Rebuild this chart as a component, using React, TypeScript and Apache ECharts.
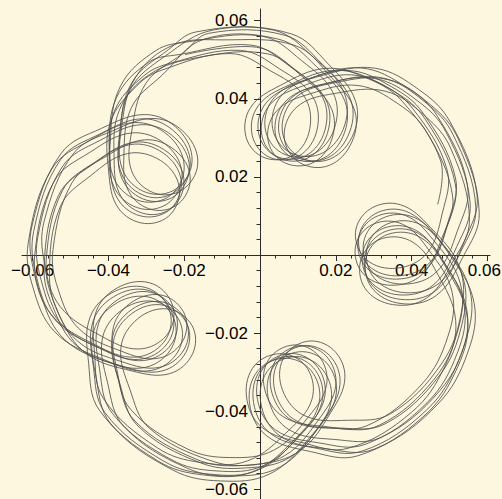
import React, { useEffect, useRef } from 'react';
import * as echarts from 'echarts';

// Curve as [radius, angle in degrees] pairs,
// one array per pass around the five loops (clockwise travel).
const passA: [number, number][] = [
  [0.0565, 110.5], [0.0549, 91], [0.0499, 79.4], [0.0446, 67.1], [0.0367, 61], [0.0285, 63.9], [0.0262, 79.7], [0.0319, 89.2], [0.0398, 86.2], [0.0461, 75.7], [0.0534, 63], [0.0559, 50.5],
  [0.0565, 39.5], [0.0549, 20], [0.0499, 8.4], [0.0446, 356.1], [0.0367, 350], [0.0285, 352.9], [0.0262, 8.7], [0.0319, 18.2], [0.0398, 15.2], [0.0461, 4.7], [0.0534, 352], [0.0559, 339.5],
  [0.0565, 324.5], [0.0549, 305], [0.0499, 293.4], [0.0446, 281.1], [0.0367, 275], [0.0285, 277.9], [0.0262, 293.7], [0.0319, 303.2], [0.0398, 300.2], [0.0461, 289.7], [0.0534, 277], [0.0559, 264.5],
  [0.0565, 252.5], [0.0549, 233], [0.0499, 221.4], [0.0446, 209.1], [0.0367, 203], [0.0285, 205.9], [0.0262, 221.7], [0.0319, 231.2], [0.0398, 228.2], [0.0461, 217.7], [0.0534, 205], [0.0559, 192.5],
  [0.0565, 181.5], [0.0549, 162], [0.0499, 150.4], [0.0446, 138.1], [0.0367, 132], [0.0285, 134.9], [0.0262, 150.7], [0.0319, 160.2], [0.0398, 157.2], [0.0461, 146.7], [0.0534, 134], [0.0559, 121.5],
];

const passB: [number, number][] = [
  [0.0547, 107.5], [0.0532, 88], [0.0483, 76.4], [0.0431, 64.1], [0.0355, 58], [0.0276, 60.9], [0.0254, 76.7], [0.0309, 86.2], [0.0385, 83.2], [0.0446, 72.7], [0.0517, 60], [0.0541, 47.5],
  [0.0547, 36.5], [0.0532, 17], [0.0483, 5.4], [0.0431, 353.1], [0.0355, 347], [0.0276, 349.9], [0.0254, 5.7], [0.0309, 15.2], [0.0385, 12.2], [0.0446, 1.7], [0.0517, 349], [0.0541, 336.5],
  [0.0547, 321.5], [0.0532, 302], [0.0483, 290.4], [0.0431, 278.1], [0.0355, 272], [0.0276, 274.9], [0.0254, 290.7], [0.0309, 300.2], [0.0385, 297.2], [0.0446, 286.7], [0.0517, 274], [0.0541, 261.5],
  [0.0547, 249.5], [0.0532, 230], [0.0483, 218.4], [0.0431, 206.1], [0.0355, 200], [0.0276, 202.9], [0.0254, 218.7], [0.0309, 228.2], [0.0385, 225.2], [0.0446, 214.7], [0.0517, 202], [0.0541, 189.5],
  [0.0547, 178.5], [0.0532, 159], [0.0483, 147.4], [0.0431, 135.1], [0.0355, 129], [0.0276, 131.9], [0.0254, 147.7], [0.0309, 157.2], [0.0385, 154.2], [0.0446, 143.7], [0.0517, 131], [0.0541, 118.5],
];

const passC: [number, number][] = [
  [0.0589, 104.5], [0.0572, 85], [0.052, 73.4], [0.0464, 61.1], [0.0382, 55], [0.0297, 57.9], [0.0273, 73.7], [0.0333, 83.2], [0.0415, 80.2], [0.048, 69.7], [0.0556, 57], [0.0582, 44.5],
  [0.0589, 33.5], [0.0572, 14], [0.052, 2.4], [0.0464, 350.1], [0.0382, 344], [0.0297, 346.9], [0.0273, 2.7], [0.0333, 12.2], [0.0415, 9.2], [0.048, 358.7], [0.0556, 346], [0.0582, 333.5],
  [0.0589, 318.5], [0.0572, 299], [0.052, 287.4], [0.0464, 275.1], [0.0382, 269], [0.0297, 271.9], [0.0273, 287.7], [0.0333, 297.2], [0.0415, 294.2], [0.048, 283.7], [0.0556, 271], [0.0582, 258.5],
  [0.0589, 246.5], [0.0572, 227], [0.052, 215.4], [0.0464, 203.1], [0.0382, 197], [0.0297, 199.9], [0.0273, 215.7], [0.0333, 225.2], [0.0415, 222.2], [0.048, 211.7], [0.0556, 199], [0.0582, 186.5],
  [0.0589, 175.5], [0.0572, 156], [0.052, 144.4], [0.0464, 132.1], [0.0382, 126], [0.0297, 128.9], [0.0273, 144.7], [0.0333, 154.2], [0.0415, 151.2], [0.048, 140.7], [0.0556, 128], [0.0582, 115.5],
];

const passD: [number, number][] = [
  [0.0607, 101.5], [0.059, 82], [0.0536, 70.4], [0.0478, 58.1], [0.0394, 52], [0.0306, 54.9], [0.0282, 70.7], [0.0343, 80.2], [0.0427, 77.2], [0.0495, 66.7], [0.0573, 54], [0.06, 41.5],
  [0.0607, 30.5], [0.059, 11], [0.0536, 359.4], [0.0478, 347.1], [0.0394, 341], [0.0306, 343.9], [0.0282, 359.7], [0.0343, 9.2], [0.0427, 6.2], [0.0495, 355.7], [0.0573, 343], [0.06, 330.5],
  [0.0607, 315.5], [0.059, 296], [0.0536, 284.4], [0.0478, 272.1], [0.0394, 266], [0.0306, 268.9], [0.0282, 284.7], [0.0343, 294.2], [0.0427, 291.2], [0.0495, 280.7], [0.0573, 268], [0.06, 255.5],
  [0.0607, 243.5], [0.059, 224], [0.0536, 212.4], [0.0478, 200.1], [0.0394, 194], [0.0306, 196.9], [0.0282, 212.7], [0.0343, 222.2], [0.0427, 219.2], [0.0495, 208.7], [0.0573, 196], [0.06, 183.5],
  [0.0607, 172.5], [0.059, 153], [0.0536, 141.4], [0.0478, 129.1], [0.0394, 123], [0.0306, 125.9], [0.0282, 141.7], [0.0343, 151.2], [0.0427, 148.2], [0.0495, 137.7], [0.0573, 125], [0.06, 112.5],
];

const passE: [number, number][] = [
  [0.0577, 100], [0.0561, 80.5], [0.0509, 68.9], [0.0455, 56.6], [0.0374, 50.5], [0.0291, 53.4], [0.0268, 69.2], [0.0326, 78.7], [0.0406, 75.7], [0.047, 65.2], [0.0545, 52.5], [0.057, 40],
  [0.0577, 29], [0.0561, 9.5], [0.0509, 357.9], [0.0455, 345.6], [0.0374, 339.5], [0.0291, 342.4], [0.0268, 358.2], [0.0326, 7.7], [0.0406, 4.7], [0.047, 354.2], [0.0545, 341.5], [0.057, 329],
  [0.0577, 314], [0.0561, 294.5], [0.0509, 282.9], [0.0455, 270.6], [0.0374, 264.5], [0.0291, 267.4], [0.0268, 283.2], [0.0326, 292.7], [0.0406, 289.7], [0.047, 279.2], [0.0545, 266.5], [0.057, 254],
  [0.0577, 242], [0.0561, 222.5], [0.0509, 210.9], [0.0455, 198.6], [0.0374, 192.5], [0.0291, 195.4], [0.0268, 211.2], [0.0326, 220.7], [0.0406, 217.7], [0.047, 207.2], [0.0545, 194.5], [0.057, 182],
  [0.0577, 171], [0.0561, 151.5], [0.0509, 139.9], [0.0455, 127.6], [0.0374, 121.5], [0.0291, 124.4], [0.0268, 140.2], [0.0326, 149.7], [0.0406, 146.7], [0.047, 136.2], [0.0545, 123.5], [0.057, 111],
];

const passF: [number, number][] = [
  [0.0601, 103], [0.0584, 83.5], [0.053, 71.9], [0.0474, 59.6], [0.039, 53.5], [0.0303, 56.4], [0.0279, 72.2], [0.0339, 81.7], [0.0423, 78.7], [0.049, 68.2], [0.0568, 55.5], [0.0594, 43],
  [0.0601, 32], [0.0584, 12.5], [0.053, 0.9], [0.0474, 348.6], [0.039, 342.5], [0.0303, 345.4], [0.0279, 1.2], [0.0339, 10.7], [0.0423, 7.7], [0.049, 357.2], [0.0568, 344.5], [0.0594, 332],
  [0.0601, 317], [0.0584, 297.5], [0.053, 285.9], [0.0474, 273.6], [0.039, 267.5], [0.0303, 270.4], [0.0279, 286.2], [0.0339, 295.7], [0.0423, 292.7], [0.049, 282.2], [0.0568, 269.5], [0.0594, 257],
  [0.0601, 245], [0.0584, 225.5], [0.053, 213.9], [0.0474, 201.6], [0.039, 195.5], [0.0303, 198.4], [0.0279, 214.2], [0.0339, 223.7], [0.0423, 220.7], [0.049, 210.2], [0.0568, 197.5], [0.0594, 185],
  [0.0601, 174], [0.0584, 154.5], [0.053, 142.9], [0.0474, 130.6], [0.039, 124.5], [0.0303, 127.4], [0.0279, 143.2], [0.0339, 152.7], [0.0423, 149.7], [0.049, 139.2], [0.0568, 126.5], [0.0594, 114],
];

const passG: [number, number][] = [
  [0.0613, 106], [0.0595, 86.5], [0.0541, 74.9], [0.0483, 62.6], [0.0398, 56.5], [0.0309, 59.4], [0.0284, 75.2], [0.0346, 84.7], [0.0432, 81.7], [0.05, 71.2], [0.0579, 58.5], [0.0606, 46],
  [0.0613, 35], [0.0595, 15.5], [0.0541, 3.9], [0.0483, 351.6], [0.0398, 345.5], [0.0309, 348.4], [0.0284, 4.2], [0.0346, 13.7], [0.0432, 10.7], [0.05, 0.2], [0.0579, 347.5], [0.0606, 335],
  [0.0613, 320], [0.0595, 300.5], [0.0541, 288.9], [0.0483, 276.6], [0.0398, 270.5], [0.0309, 273.4], [0.0284, 289.2], [0.0346, 298.7], [0.0432, 295.7], [0.05, 285.2], [0.0579, 272.5], [0.0606, 260],
  [0.0613, 248], [0.0595, 228.5], [0.0541, 216.9], [0.0483, 204.6], [0.0398, 198.5], [0.0309, 201.4], [0.0284, 217.2], [0.0346, 226.7], [0.0432, 223.7], [0.05, 213.2], [0.0579, 200.5], [0.0606, 188],
  [0.0613, 177], [0.0595, 157.5], [0.0541, 145.9], [0.0483, 133.6], [0.0398, 127.5], [0.0309, 130.4], [0.0284, 146.2], [0.0346, 155.7], [0.0432, 152.7], [0.05, 142.2], [0.0579, 129.5], [0.0606, 117],
];

const passH: [number, number][] = [
  [0.0595, 109], [0.0578, 89.5], [0.0525, 77.9], [0.0469, 65.6], [0.0386, 59.5], [0.03, 62.4], [0.0276, 78.2], [0.0336, 87.7], [0.0419, 84.7], [0.0485, 74.2], [0.0562, 61.5], [0.0588, 49],
  [0.0595, 38], [0.0578, 18.5], [0.0525, 6.9], [0.0469, 354.6], [0.0386, 348.5], [0.03, 351.4], [0.0276, 7.2], [0.0336, 16.7], [0.0419, 13.7], [0.0485, 3.2], [0.0562, 350.5], [0.0588, 338],
  [0.0595, 323], [0.0578, 303.5], [0.0525, 291.9], [0.0469, 279.6], [0.0386, 273.5], [0.03, 276.4], [0.0276, 292.2], [0.0336, 301.7], [0.0419, 298.7], [0.0485, 288.2], [0.0562, 275.5], [0.0588, 263],
  [0.0595, 251], [0.0578, 231.5], [0.0525, 219.9], [0.0469, 207.6], [0.0386, 201.5], [0.03, 204.4], [0.0276, 220.2], [0.0336, 229.7], [0.0419, 226.7], [0.0485, 216.2], [0.0562, 203.5], [0.0588, 191],
  [0.0595, 180], [0.0578, 160.5], [0.0525, 148.9], [0.0469, 136.6], [0.0386, 130.5], [0.03, 133.4], [0.0276, 149.2], [0.0336, 158.7], [0.0419, 155.7], [0.0485, 145.2], [0.0562, 132.5], [0.0588, 120],
];

const passI: [number, number][] = [
  [0.0571, 112], [0.0555, 92.5], [0.0504, 80.9], [0.045, 68.6], [0.0371, 62.5], [0.0288, 65.4], [0.0265, 81.2], [0.0323, 90.7], [0.0402, 87.7], [0.0466, 77.2], [0.054, 64.5], [0.0564, 52],
  [0.0571, 41], [0.0555, 21.5], [0.0504, 9.9], [0.045, 357.6], [0.0371, 351.5], [0.0288, 354.4], [0.0265, 10.2], [0.0323, 19.7], [0.0402, 16.7], [0.0466, 6.2], [0.054, 353.5], [0.0564, 341],
  [0.0571, 326], [0.0555, 306.5], [0.0504, 294.9], [0.045, 282.6], [0.0371, 276.5], [0.0288, 279.4], [0.0265, 295.2], [0.0323, 304.7], [0.0402, 301.7], [0.0466, 291.2], [0.054, 278.5], [0.0564, 266],
  [0.0571, 254], [0.0555, 234.5], [0.0504, 222.9], [0.045, 210.6], [0.0371, 204.5], [0.0288, 207.4], [0.0265, 223.2], [0.0323, 232.7], [0.0402, 229.7], [0.0466, 219.2], [0.054, 206.5], [0.0564, 194],
  [0.0571, 183], [0.0555, 163.5], [0.0504, 151.9], [0.045, 139.6], [0.0371, 133.5], [0.0288, 136.4], [0.0265, 152.2], [0.0323, 161.7], [0.0402, 158.7], [0.0466, 148.2], [0.054, 135.5], [0.0564, 123],
];

const passJ: [number, number][] = [
  [0.0559, 115], [0.0543, 95.5], [0.0494, 83.9], [0.0441, 71.6], [0.0363, 65.5], [0.0282, 68.4], [0.0259, 84.2], [0.0316, 93.7], [0.0394, 90.7], [0.0456, 80.2], [0.0528, 67.5], [0.0553, 55],
  [0.0559, 44], [0.0543, 24.5], [0.0494, 12.9], [0.0441, 0.6], [0.0363, 354.5], [0.0282, 357.4], [0.0259, 13.2], [0.0316, 22.7], [0.0394, 19.7], [0.0456, 9.2], [0.0528, 356.5], [0.0553, 344],
  [0.0559, 329], [0.0543, 309.5], [0.0494, 297.9], [0.0441, 285.6], [0.0363, 279.5], [0.0282, 282.4], [0.0259, 298.2], [0.0316, 307.7], [0.0394, 304.7], [0.0456, 294.2], [0.0528, 281.5], [0.0553, 269],
  [0.0559, 257], [0.0543, 237.5], [0.0494, 225.9], [0.0441, 213.6], [0.0363, 207.5], [0.0282, 210.4], [0.0259, 226.2], [0.0316, 235.7], [0.0394, 232.7], [0.0456, 222.2], [0.0528, 209.5], [0.0553, 197],
  [0.0559, 186], [0.0543, 166.5], [0.0494, 154.9], [0.0441, 142.6], [0.0363, 136.5], [0.0282, 139.4], [0.0259, 155.2], [0.0316, 164.7], [0.0394, 161.7], [0.0456, 151.2], [0.0528, 138.5], [0.0553, 126],
];

const passK: [number, number][] = [
  [0.0553, 118], [0.0538, 98.5], [0.0488, 86.9], [0.0436, 74.6], [0.0359, 68.5], [0.0279, 71.4], [0.0257, 87.2], [0.0312, 96.7], [0.039, 93.7], [0.0451, 83.2], [0.0523, 70.5], [0.0547, 58],
  [0.0553, 47], [0.0538, 27.5], [0.0488, 15.9],
];

const passes = [passA, passB, passC, passD, passE, passF, passG, passH, passI, passJ, passK];

const axisTicks = { min: -0.06, max: 0.06, step: 0.02 };

const fmtY = (v: number) => {
  if (Math.abs(v) < 1e-9) return '';
  return v.toFixed(2).replace('-', '\u2212');
};

const fmtX = (v: number) => {
  if (Math.abs(v) < 1e-9) return '';
  const s = v.toFixed(2).replace('-', '\u2212');
  return v > axisTicks.max - 1e-9 ? `{edge|${s}}` : s;
};

export default function App() {
  const ref = useRef<HTMLDivElement>(null);
  useEffect(() => {
    document.body.style.margin = '0';
    const chart = echarts.init(ref.current!, null, { renderer: 'svg' });
    const axisColor = '#2a2a2a';
    const font = "'Liberation Sans', Arial, Helvetica, sans-serif";
    const curve: [number, number][] = ([] as [number, number][]).concat(...passes);
    const lineAxisOnly = {
      type: 'value',
      axisLine: { show: true, onZero: true, lineStyle: { color: axisColor, width: 1 } },
      axisTick: { show: false },
      axisLabel: { show: false },
      splitLine: { show: false },
    };
    const tickAxis = (offset: number, margin: number, formatter: (v: number) => string) => ({
      gridIndex: 0,
      type: 'value',
      min: axisTicks.min,
      max: axisTicks.max,
      interval: axisTicks.step,
      offset,
      axisLine: { show: false, onZero: false },
      axisTick: { show: true, length: 6, lineStyle: { color: axisColor } },
      minorTick: { show: true, splitNumber: 5, length: 3.5, lineStyle: { color: axisColor } },
      splitLine: { show: false },
      minorSplitLine: { show: false },
      axisLabel: {
        formatter,
        fontSize: 17,
        color: '#000',
        margin,
        fontFamily: font,
        showMinLabel: true,
        showMaxLabel: true,
        hideOverlap: false,
        rich: { edge: { fontSize: 17, color: '#000', fontFamily: font, padding: [0, 6, 0, 0] } },
      },
    });
    chart.setOption({
      animation: false,
      backgroundColor: '#fcf7de',
      grid: [
        { left: 32.6, right: 14.6, top: 20.7, bottom: 9.7, outerBoundsMode: 'none', containLabel: false },
        { left: 22, right: 12, top: 9, bottom: 0, outerBoundsMode: 'none', containLabel: false },
      ],
      xAxis: [
        { ...tickAxis(-234.3, 7, fmtX), position: 'bottom' },
        { ...lineAxisOnly, gridIndex: 1, min: -0.0628, max: 0.0607 },
      ],
      yAxis: [
        { ...tickAxis(-227.4, 12, fmtY), position: 'left' },
        { ...lineAxisOnly, gridIndex: 1, min: -0.0625, max: 0.063 },
      ],
      polar: { center: [260, 255], radius: 265 },
      angleAxis: { type: 'value', min: 0, max: 360, startAngle: 0, clockwise: false, show: false },
      radiusAxis: { type: 'value', min: 0, max: 0.07, show: false },
      series: [
        {
          type: 'custom',
          coordinateSystem: 'polar',
          data: [curve[0]],
          silent: true,
          clip: false,
          z: 1,
          renderItem: (_params: any, api: any) => ({
            type: 'polyline',
            shape: { points: curve.map((p) => api.coord(p)), smooth: 0.38 },
            style: { stroke: '#505050', lineWidth: 0.85, fill: 'none' },
          }),
        },
      ],
    });
    return () => chart.dispose();
  }, []);
  return <div ref={ref} style={{ position: 'absolute', left: 0, top: 0, width: 502, height: 499 }} />;
}
